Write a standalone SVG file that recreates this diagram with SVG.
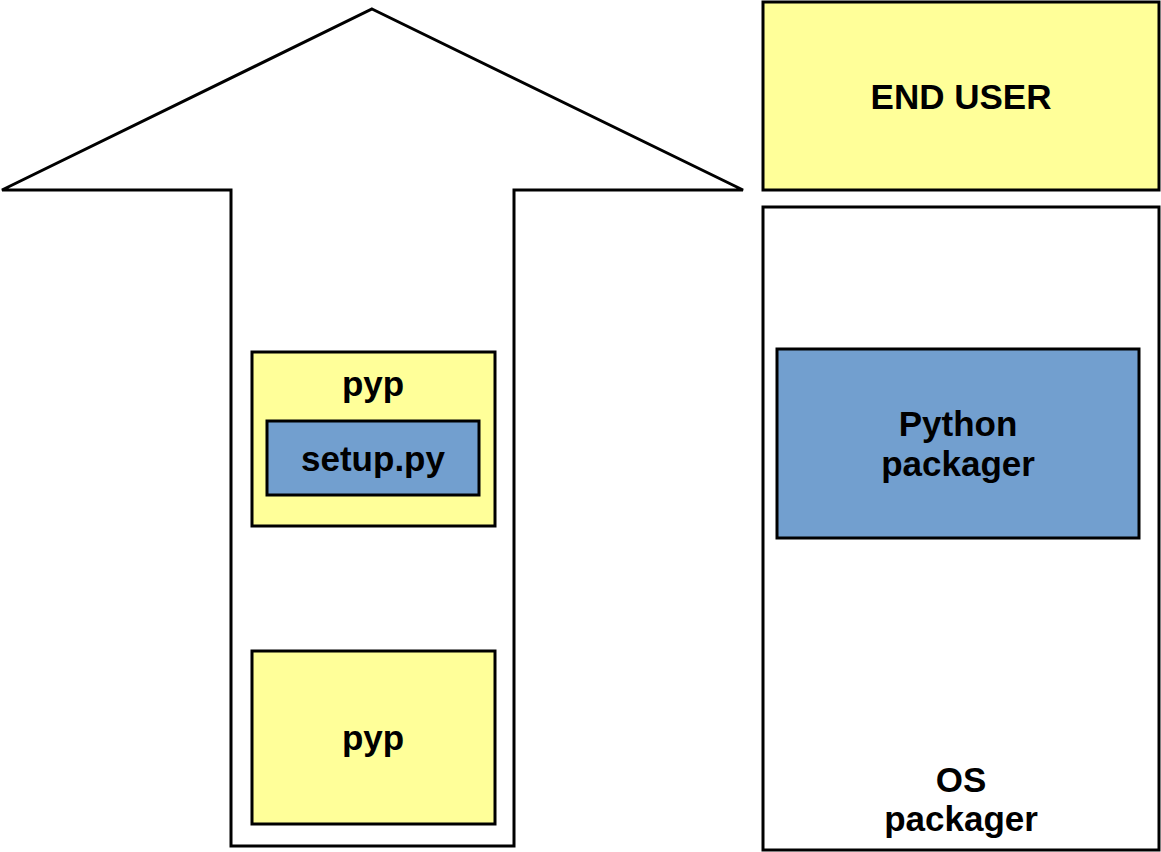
<svg xmlns="http://www.w3.org/2000/svg" width="1161" height="852" viewBox="0 0 1161 852">
<style>
.box{stroke:#000;stroke-width:3;stroke-linejoin:miter}
.y{fill:#ffff99}
.b{fill:#729fcf}
.w{fill:#fff}
text{font-family:"Liberation Sans",Arial,sans-serif;font-weight:bold;font-size:35px;text-anchor:middle;fill:#000}
</style>
<rect width="1161" height="852" fill="#fff"/>
<g id="arrow">
<polygon class="box w" points="372,9 743,190 514,190 514,846 231,846 231,190 2,190"/>
</g>
<g id="end-user">
<rect class="box y" x="763" y="2" width="396" height="188"/>
<text x="961" y="109">END USER</text>
</g>
<g id="os-packager">
<rect class="box w" x="763" y="207" width="396" height="643"/>
<text x="961" y="792">OS</text>
<text x="961" y="831">packager</text>
</g>
<g id="python-packager">
<rect class="box b" x="777" y="349" width="362" height="189"/>
<text x="958" y="436">Python</text>
<text x="958" y="476">packager</text>
</g>
<g id="pyp-top">
<rect class="box y" x="252" y="352" width="243" height="174"/>
<text x="373" y="396">pyp</text>
</g>
<g id="setup-py">
<rect class="box b" x="267" y="421" width="212" height="74"/>
<text x="373" y="471">setup.py</text>
</g>
<g id="pyp-bottom">
<rect class="box y" x="252" y="651" width="243" height="173"/>
<text x="373" y="750">pyp</text>
</g>
<g id="connectors"></g>
</svg>
